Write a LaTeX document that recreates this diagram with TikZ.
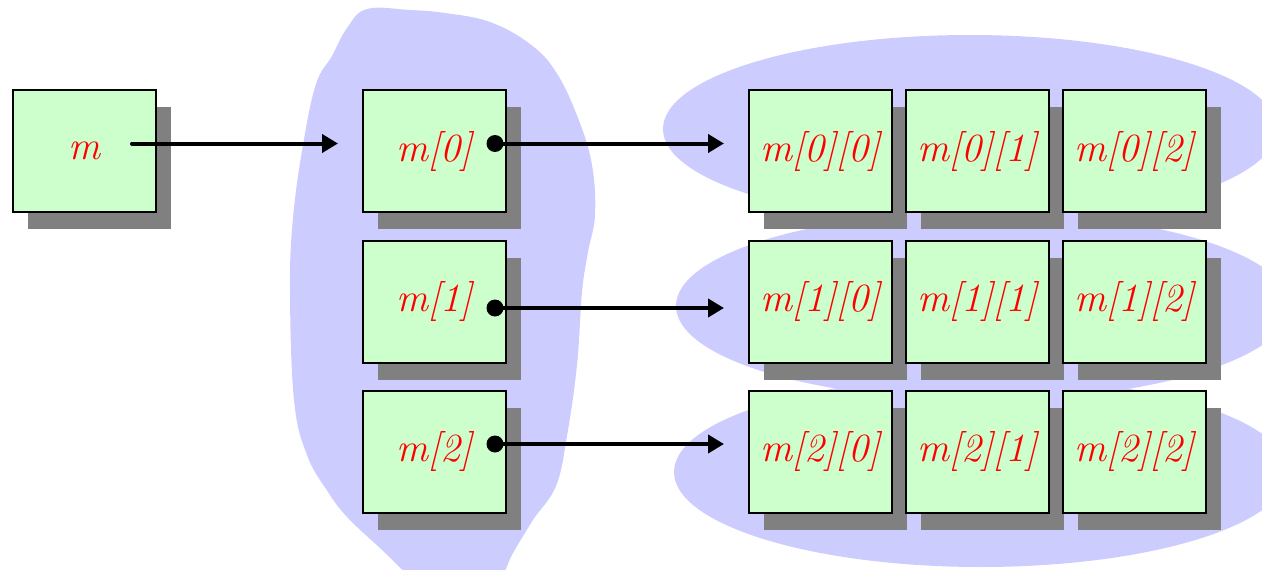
\documentclass[tikz,border=0pt]{standalone}
\usetikzlibrary{arrows.meta,shadows}
\definecolor{blobblue}{HTML}{CCCCFF}
\definecolor{cellgreen}{HTML}{CCFFCC}
\definecolor{shadegray}{HTML}{808080}
\begin{document}
\begin{tikzpicture}[x=1pt,y=-1pt,
  cellbox/.style={draw=black, line width=2pt, fill=cellgreen,
    minimum width=143pt, minimum height=122pt, inner sep=0pt,
    text=red, font=\fontsize{40}{48}\selectfont\itshape,
    general shadow={fill=shadegray, shadow xshift=15pt, shadow yshift=-17pt}},
  ptr/.style={line width=4pt, line cap=round, -{Triangle[length=16pt,width=18pt]}},
  dotnode/.style={circle, fill=black, minimum size=17pt, inner sep=0pt}]
\useasboundingbox (0,0) rectangle (1262,570);
\clip (0,0) rectangle (1262,570);
% background regions
\fill[blobblue] plot[smooth cycle, tension=0.65] coordinates {
  (367,9) (410,10) (445,13) (490,22) (530,44) (556,72) (578,118) (592,165)
  (595,215) (588,252) (582,292) (577,365) (567,436) (556,486) (533,520)
  (513,553) (495,585) (455,600) (415,580) (380,548) (348,518) (328,492)
  (307,455) (294,400) (290,290) (293,218) (303,145) (316,84) (332,56) (347,28)};
\fill[blobblue] (970,129) ellipse [x radius=307pt, y radius=94pt];
\fill[blobblue] (983,306) ellipse [x radius=307pt, y radius=94pt];
\fill[blobblue] (981,472) ellipse [x radius=307pt, y radius=95pt];
% boxes
\node[cellbox] (m) at (84.5,151) {m};
\node[cellbox] (c0) at (434.5,151) {m[0]};
\node[cellbox] (c1) at (434.5,301.5) {m[1]};
\node[cellbox] (c2) at (434.5,451.5) {m[2]};
\foreach \r/\y in {0/151,1/301.5,2/451.5}{
  \node[cellbox] (e\r0) at (820.5,\y) {m[\r][0]};
  \node[cellbox] (e\r1) at (977.5,\y) {m[\r][1]};
  \node[cellbox] (e\r2) at (1134.5,\y) {m[\r][2]};
}
% pointers
\coordinate (ms) at (132,143.5);
\coordinate (mt) at (338,143.5);
\draw[ptr] (ms) -- (mt);
\node[dotnode] (d0) at (495,143.5) {};
\node[dotnode] (d1) at (495,308) {};
\node[dotnode] (d2) at (495,444) {};
\coordinate (t0) at (724,143.5);
\coordinate (t1) at (724,308);
\coordinate (t2) at (724,444);
\draw[ptr] (d0.center) -- (t0);
\draw[ptr] (d1.center) -- (t1);
\draw[ptr] (d2.center) -- (t2);
\end{tikzpicture}
\end{document}
